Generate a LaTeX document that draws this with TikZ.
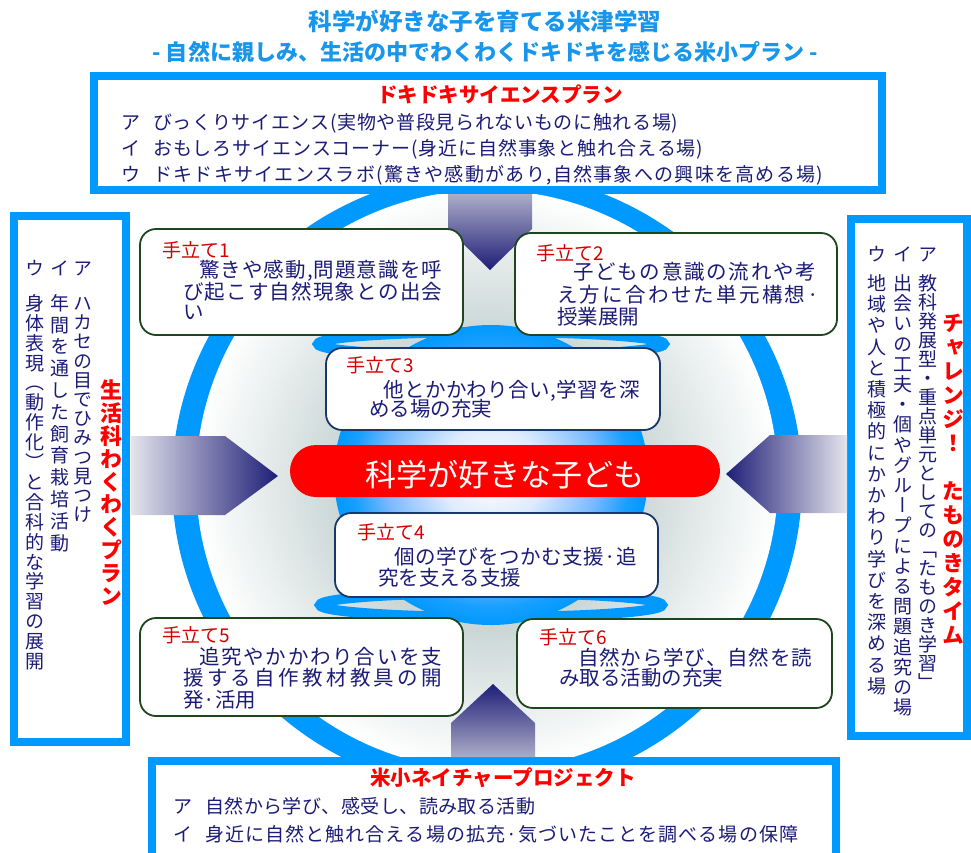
\documentclass[tikz,border=0pt]{standalone}
\usepackage{fontspec}
\setmainfont{Noto Sans CJK JP}
\newfontfamily\jpv[RawFeature=+vert]{Noto Sans CJK JP}
\definecolor{ringblue}{RGB}{0,153,255}
\definecolor{navytxt}{RGB}{28,28,120}
\definecolor{titleblue}{RGB}{24,150,235}
\definecolor{labred}{RGB}{210,0,0}
\definecolor{hotred}{RGB}{255,0,0}
\definecolor{tgreen}{RGB}{30,70,30}
\definecolor{tnavy}{RGB}{25,55,105}
\definecolor{arrnavy}{RGB}{30,30,120}
\definecolor{arrlight}{RGB}{172,172,200}
\definecolor{arrpale}{RGB}{228,228,236}
\definecolor{graymid}{RGB}{190,205,205}
\definecolor{diskmid}{RGB}{120,185,255}
\definecolor{diskpale}{RGB}{222,236,255}
\pgfdeclareradialshading{grayring}{\pgfpoint{0bp}{0bp}}{color(0bp)=(graymid); color(13bp)=(graymid!80!white); color(25bp)=(white); color(50bp)=(white)}
\pgfdeclareradialshading{bluedisk}{\pgfpoint{0bp}{0bp}}{color(0bp)=(white); color(8bp)=(diskpale); color(17bp)=(diskmid); color(22bp)=(ringblue!80!diskmid); color(25bp)=(ringblue); color(50bp)=(ringblue)}
\ExplSyntaxOn
\dim_new:N \l_vc_pitch_dim
\cs_new_protected:Npn \vc_cell:n #1
  {
    \hbox_to_wd:nn { 1em }
      {
        \hss
        \vrule height \dim_eval:n { 0.5\l_vc_pitch_dim + 0.38em }
               depth \dim_eval:n { 0.5\l_vc_pitch_dim - 0.38em }
               width 0pt
        \smash{#1}
        \hss
      }
  }
\NewDocumentCommand{\vcol}{mm}
  {
    \dim_set:Nn \l_vc_pitch_dim {#1}
    \vbox:n { \offinterlineskip \tl_map_function:nN {#2} \vc_cell:n }
  }
\NewDocumentCommand{\jline}{mm}
  {
    \hbox_to_wd:nn {#1} { \tl_map_inline:nn {#2} { ##1 \hfil } \unskip }
  }
\ExplSyntaxOff
\tikzset{
  frame/.style={draw=ringblue, line width=8pt, fill=white},
  tbox/.style={draw=tgreen, line width=1.8pt, fill=white, rounded corners=16pt},
  tboxb/.style={tbox, draw=tnavy},
  flatring/.style={draw=ringblue, line width=10pt},
  ttl/.style={anchor=base, inner sep=0pt, text=titleblue, font=\bfseries\fontsize{23.5}{26}\selectfont},
  redttl/.style={anchor=base, inner sep=0pt, text=hotred, font=\bfseries\fontsize{20.5}{24}\selectfont},
  boxtxt/.style={anchor=base west, inner sep=0pt, text=navytxt, font=\fontsize{19}{22}\selectfont},
  lab/.style={anchor=base west, inner sep=0pt, text=labred, font=\fontsize{19}{22}\selectfont},
  body/.style={anchor=base west, inner sep=0pt, text=navytxt, font=\fontsize{20.5}{24}\selectfont},
  vtxt/.style={anchor=north, inner sep=0pt, text=navytxt, font=\jpv\fontsize{19}{19}\selectfont},
  vred/.style={anchor=north, inner sep=0pt, text=hotred, font=\jpv\bfseries\fontsize{22}{22}\selectfont},
}
\begin{document}
\begin{tikzpicture}[x=1pt,y=-1pt]
\useasboundingbox (0,0) rectangle (971,852);
\fill[white] (0,0) rectangle (971,852);

% rings
\fill[ringblue] (487,482) ellipse [x radius=315, y radius=310];
\shade[shading=grayring] (487,480) ellipse [x radius=291, y radius=290];
\draw[flatring] (491,344) ellipse [x radius=173, y radius=12];
\draw[flatring] (491,605) ellipse [x radius=171, y radius=12];
\shade[shading=bluedisk] (491,475) ellipse [x radius=157, y radius=150];

% frames
\draw[frame] (94,76) rectangle (882,190);
\draw[frame] (14,216) rectangle (126,742);
\draw[frame] (851,219) rectangle (967,736);
\draw[frame] (152,761) rectangle (836,872);

% arrows
\shade[top color=arrlight, bottom color=arrnavy] (448,194) -- (532,194) -- (532,229) -- (490,270) -- (448,229) -- cycle;
\shade[top color=arrnavy, bottom color=arrlight] (451,757) -- (451,723) -- (493,684) -- (535,723) -- (535,757) -- cycle;
\shade[left color=arrpale, right color=arrnavy] (131,436) -- (225,436) -- (278,476) -- (225,515) -- (131,515) -- cycle;
\shade[left color=arrnavy, right color=arrpale] (847,435) -- (770,435) -- (726,474) -- (770,513) -- (847,513) -- cycle;

% tedate boxes
\draw[tbox] (140,229) rectangle (463,335);
\draw[tbox] (515,233) rectangle (837,335);
\draw[tboxb] (326,348) rectangle (660,430);
\draw[tboxb] (335,513) rectangle (658,597);
\draw[tbox] (140,618) rectangle (463,716);
\draw[tbox] (517,619) rectangle (832,708);

% center
\fill[hotred, rounded corners=26pt] (290,445) rectangle (720,497);
\node[anchor=base, inner sep=0pt, text=white, font=\fontsize{31}{31}\selectfont] (center) at (505,486) {科学が好きな子ども};

% titles
\node[ttl] (t1) at (485,30.5) {科学が好きな子を育てる米津学習};
\node[ttl, font=\bfseries\fontsize{22}{26}\selectfont] (t2) at (485,60) {- 自然に親しみ、生活の中でわくわくドキドキを感じる米小プラン -};

% top box
\node[redttl] (dk) at (500,102.5) {ドキドキサイエンスプラン};
\node[boxtxt] (da) at (121,129) {ア};
\node[boxtxt] (da2) at (153,129) {\jline{525pt}{びっくりサイエンス(実物や普段見られないものに触れる場)}};
\node[boxtxt] (di) at (121,155) {イ};
\node[boxtxt] (di2) at (153,155) {\jline{550pt}{おもしろサイエンスコーナー(身近に自然事象と触れ合える場)}};
\node[boxtxt] (du) at (121,181) {ウ};
\node[boxtxt] (du2) at (153,181) {\jline{670pt}{ドキドキサイエンスラボ(驚きや感動があり{,}自然事象への興味を高める場)}};

% bottom box
\node[redttl] (bn) at (503,785.5) {米小ネイチャープロジェクト};
\node[boxtxt] (ba) at (173,813) {ア};
\node[boxtxt] (ba2) at (205,813) {\jline{330pt}{自然から学び、感受し、読み取る活動}};
\node[boxtxt] (bi) at (173,841) {イ};
\node[boxtxt] (bi2) at (205,841) {\jline{593pt}{身近に自然と触れ合える場の拡充{·}気づいたことを調べる場の保障}};

% tedate texts
\node[lab] (l1) at (162,257) {手立て1};
\node[body] (l1a) at (199,277.5) {\jline{243pt}{驚きや感動{,}問題意識を呼}};
\node[body] (l1b) at (183,299.5) {\jline{259pt}{び起こす自然現象との出会}};
\node[body] (l1c) at (183,319.5) {い};

\node[lab] (l2) at (536,260) {手立て2};
\node[body] (l2a) at (573,279.5) {\jline{243pt}{子どもの意識の流れや考}};
\node[body] (l2b) at (557,302.5) {\jline{262pt}{え方に合わせた単元構想{·}}};
\node[body] (l2c) at (557,324.5) {授業展開};

\node[lab] (l3) at (346,372) {手立て3};
\node[body] (l3a) at (383,397.5) {\jline{257pt}{他とかかわり合い{,}学習を深}};
\node[body] (l3b) at (369,416.5) {める場の充実};

\node[lab] (l4) at (357,539) {手立て4};
\node[body] (l4a) at (394,564.5) {\jline{243pt}{個の学びをつかむ支援{·}追}};
\node[body] (l4b) at (378,585.5) {究を支える支援};

\node[lab] (l5) at (162,642) {手立て5};
\node[body] (l5a) at (199,664.5) {\jline{243pt}{追究やかかわり合いを支}};
\node[body] (l5b) at (183,685.5) {\jline{259pt}{援する自作教材教具の開}};
\node[body] (l5c) at (183,707.5) {発·活用};

\node[lab] (l6) at (539,644) {手立て6};
\node[body] (l6a) at (578,665.5) {\jline{234pt}{自然から学び、自然を読}};
\node[body] (l6b) at (559,685.5) {み取る活動の充実};

% left box (vertical)
\node[vred] (lr) at (111,379) {\vcol{22.8pt}{生活科わくわくプラン}};
\node[vtxt] (lha) at (83,258) {\vcol{20pt}{ア}};
\node[vtxt] (lhi) at (60,258) {\vcol{20pt}{イ}};
\node[vtxt] (lhu) at (35,258) {\vcol{20pt}{ウ}};
\node[vtxt] (lca) at (83,293.5) {\vcol{19.2pt}{ハカセの目でひみつ見つけ}};
\node[vtxt] (lci) at (60,292) {\vcol{21.8pt}{年間を通した飼育栽培活動}};
\node[vtxt] (lcu) at (35,293) {\vcol{19.9pt}{身体表現（動作化）と合科的な学習の展開}};

% right box (vertical)
\node[vred] (rr) at (953,311) {\vcol{24pt}{チャレンジ！{}たものきタイム}};
\node[vtxt] (rha) at (928,244) {\vcol{20pt}{ア}};
\node[vtxt] (rhi) at (903,244) {\vcol{20pt}{イ}};
\node[vtxt] (rhu) at (877,244) {\vcol{20pt}{ウ}};
\node[vtxt] (rca) at (928,273.5) {\vcol{19pt}{教科発展型・重点単元としての「たものき学習」}};
\node[vtxt] (rci) at (903,273) {\vcol{20.2pt}{出会いの工夫・個やグループによる問題追究の場}};
\node[vtxt] (rcu) at (877,272.5) {\vcol{21.2pt}{地域や人と積極的にかかわり学びを深める場}};
\end{tikzpicture}
\end{document}
